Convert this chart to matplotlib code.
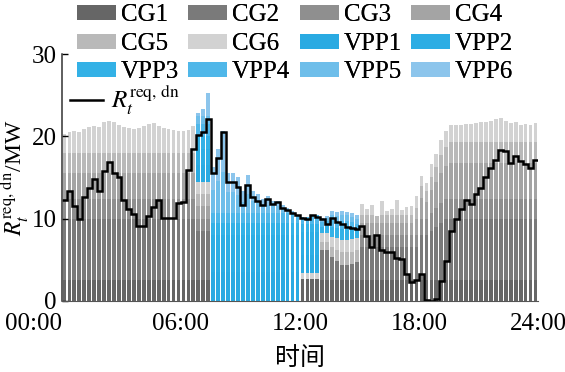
import numpy as np
import matplotlib
matplotlib.use('Agg')
import matplotlib.pyplot as plt

# 96 x 15 min, stacked down-reserve per unit (MW)
cg1 = [2.5, 2.5, 2.5, 2.5, 2.5, 2.5, 2.5, 2.5, 2.5, 2.5, 2.5, 2.5,
       2.5, 2.5, 2.5, 2.5, 2.5, 2.5, 2.5, 2.5, 2.5, 2.5, 2.5, 2.5,
       2.5, 2.5, 2.5, 2.5, 2.5, 2.5, 0, 0, 0, 0, 0, 0,
       0, 0, 0, 0, 0, 0, 0, 0, 0, 0, 0, 0,
       2.7, 2.7, 2.7, 2.7, 2.5, 2.5, 2.5, 2.5, 2.5, 2.5, 2.5, 2.5,
       2.5, 2.5, 2.5, 2.5, 2.5, 2.5, 2.5, 2.5, 2.5, 2.5, 2.5, 2.5,
       2.5, 2.5, 2.5, 2.5, 2.5, 2.5, 2.5, 2.5, 2.5, 2.5, 2.5, 2.5,
       2.5, 2.5, 2.5, 2.5, 2.5, 2.5, 2.5, 2.5, 2.5, 2.5, 2.5, 2.5]
cg2 = [7.5, 7.5, 7.5, 7.5, 7.5, 7.5, 7.5, 7.5, 7.5, 7.5, 7.5, 7.5,
       7.5, 7.5, 7.5, 7.5, 7.5, 7.5, 7.5, 7.5, 7.5, 7.5, 7.5, 7.5,
       7.5, 7.5, 7.5, 6.0, 6.0, 6.0, 0, 0, 0, 0, 0, 0,
       0, 0, 0, 0, 0, 0, 0, 0, 0, 0, 0, 0,
       0, 0, 0, 0, 3.7, 3.7, 2.9, 2.3, 1.9, 1.9, 2.0, 2.2,
       4.0, 4.0, 4.0, 4.0, 4.0, 4.0, 4.0, 4.0, 4.0, 4.0, 4.0, 4.0,
       5.5, 5.5, 6.0, 6.5, 7.0, 7.5, 7.5, 7.5, 7.5, 7.5, 7.5, 7.5,
       7.5, 7.5, 7.5, 7.5, 7.5, 7.5, 7.5, 7.5, 7.5, 7.5, 7.5, 7.5]
cg3 = [2.4, 2.4, 2.4, 2.4, 2.4, 2.4, 2.4, 2.4, 2.4, 2.4, 2.4, 2.4,
       2.4, 2.4, 2.4, 2.4, 2.4, 2.4, 2.4, 2.4, 2.4, 2.4, 2.4, 2.4,
       2.4, 2.4, 2.4, 1.5, 1.5, 1.5, 0, 0, 0, 0, 0, 0,
       0, 0, 0, 0, 0, 0, 0, 0, 0, 0, 0, 0,
       0, 0, 0, 0, 0, 0, 0, 0, 0, 0, 0, 0,
       1.5, 1.5, 1.5, 1.5, 1.5, 1.5, 1.5, 1.5, 1.5, 1.5, 1.5, 1.5,
       2.0, 2.0, 2.2, 2.3, 2.4, 2.4, 2.4, 2.4, 2.4, 2.4, 2.4, 2.4,
       2.4, 2.4, 2.4, 2.4, 2.4, 2.4, 2.4, 2.4, 2.4, 2.4, 2.4, 2.4]
cg4 = [3.2, 3.2, 3.2, 3.2, 3.2, 3.2, 3.2, 3.2, 3.2, 3.2, 3.2, 3.2,
       3.2, 3.2, 3.2, 3.2, 3.2, 3.2, 3.2, 3.2, 3.2, 3.2, 3.2, 3.2,
       3.2, 3.2, 3.2, 1.5, 1.5, 1.5, 0, 0, 0, 0, 0, 0,
       0, 0, 0, 0, 0, 0, 0, 0, 0, 0, 0, 0,
       0, 0, 0, 0, 0, 0, 0, 0, 0, 0, 0, 0,
       1.5, 1.5, 1.5, 1.5, 1.5, 1.5, 1.5, 1.5, 1.5, 1.5, 1.5, 2.0,
       2.5, 2.0, 2.8, 3.2, 3.7, 4.0, 4.4, 4.4, 4.4, 4.4, 4.4, 4.4,
       4.4, 4.4, 4.4, 4.4, 4.4, 4.4, 4.4, 4.4, 4.4, 4.4, 4.4, 4.4]
cg5 = [2.4, 2.4, 2.4, 2.4, 2.4, 2.4, 2.4, 2.4, 2.4, 2.4, 2.4, 2.4,
       2.4, 2.4, 2.4, 2.4, 2.4, 2.4, 2.4, 2.4, 2.4, 2.4, 2.4, 2.4,
       2.4, 2.4, 2.4, 1.5, 1.5, 1.5, 0, 0, 0, 0, 0, 0,
       0, 0, 0, 0, 0, 0, 0, 0, 0, 0, 0, 0,
       0, 0, 0, 0, 1.0, 1.0, 1.2, 1.4, 1.5, 1.5, 1.5, 1.5,
       1.0, 1.0, 1.0, 0.8, 1.0, 1.0, 1.0, 1.0, 1.0, 1.0, 1.0, 1.3,
       1.5, 1.3, 1.6, 1.8, 2.1, 2.3, 2.5, 2.5, 2.5, 2.5, 2.5, 2.5,
       2.5, 2.5, 2.5, 2.5, 2.5, 2.5, 2.5, 2.5, 2.5, 2.5, 2.5, 2.5]
cg6 = [2.3, 2.5, 2.6, 2.5, 2.9, 3.1, 3.2, 3.1, 3.7, 3.9, 3.7, 3.4,
       3.1, 3.0, 2.9, 3.0, 3.2, 3.5, 3.6, 3.2, 3.0, 2.9, 2.8, 2.6,
       2.6, 2.8, 3.2, 1.5, 1.5, 1.5, 0, 0, 0, 0, 0, 0,
       0, 0, 0, 0, 0, 0, 0, 0, 0, 0, 0, 0,
       0.7, 0.7, 0.7, 0.7, 1.0, 1.0, 1.2, 1.4, 1.5, 1.5, 1.5, 1.5,
       1.3, 0.7, 1.1, 0.0, 1.7, 0.4, 0.7, 1.8, 0.6, 0.9, 1.0, 1.5,
       1.2, 1.0, 1.5, 1.6, 1.9, 1.9, 2.1, 2.1, 2.1, 2.2, 2.2, 2.3,
       2.4, 2.5, 2.6, 2.8, 2.9, 2.6, 2.3, 2.4, 2.1, 2.2, 2.1, 2.3]
vpp1 = [0, 0, 0, 0, 0, 0, 0, 0, 0, 0, 0, 0,
        0, 0, 0, 0, 0, 0, 0, 0, 0, 0, 0, 0,
        0, 0, 0, 2.0, 2.0, 2.0, 3.5, 3.5, 3.5, 3.5, 3.5, 3.5,
        3.5, 3.5, 3.5, 3.5, 3.5, 3.5, 3.5, 3.5, 3.5, 3.5, 3.5, 3.5,
        2.2, 2.2, 2.2, 2.2, 0, 0, 0, 0, 0, 0, 0, 0,
        0, 0, 0, 0, 0, 0, 0, 0, 0, 0, 0, 0,
        0, 0, 0, 0, 0, 0, 0, 0, 0, 0, 0, 0,
        0, 0, 0, 0, 0, 0, 0, 0, 0, 0, 0, 0]
vpp2 = [0, 0, 0, 0, 0, 0, 0, 0, 0, 0, 0, 0,
        0, 0, 0, 0, 0, 0, 0, 0, 0, 0, 0, 0,
        0, 0, 0, 2.0, 2.0, 2.0, 4.5, 4.5, 4.5, 4.5, 4.5, 4.5,
        4.5, 4.5, 4.5, 4.5, 4.5, 4.5, 4.5, 4.5, 4.5, 4.5, 4.5, 4.5,
        2.8, 2.8, 2.8, 2.8, 0, 0, 0, 0, 0, 0, 0, 0,
        0, 0, 0, 0, 0, 0, 0, 0, 0, 0, 0, 0,
        0, 0, 0, 0, 0, 0, 0, 0, 0, 0, 0, 0,
        0, 0, 0, 0, 0, 0, 0, 0, 0, 0, 0, 0]
vpp3 = [0, 0, 0, 0, 0, 0, 0, 0, 0, 0, 0, 0,
        0, 0, 0, 0, 0, 0, 0, 0, 0, 0, 0, 0,
        0, 0, 0, 1.5, 1.5, 1.5, 1.5, 1.5, 1.5, 1.5, 1.5, 1.5,
        1.5, 1.5, 1.5, 1.5, 1.5, 1.5, 1.5, 1.5, 1.5, 1.5, 1.5, 1.5,
        1.0, 1.0, 1.0, 1.0, 0.8, 0.9, 1.2, 1.3, 1.4, 1.4, 1.3, 1.0,
        0, 0, 0, 0, 0, 0, 0, 0, 0, 0, 0, 0,
        0, 0, 0, 0, 0, 0, 0, 0, 0, 0, 0, 0,
        0, 0, 0, 0, 0, 0, 0, 0, 0, 0, 0, 0]
vpp4 = [0, 0, 0, 0, 0, 0, 0, 0, 0, 0, 0, 0,
        0, 0, 0, 0, 0, 0, 0, 0, 0, 0, 0, 0,
        0, 0, 0, 1.5, 1.5, 1.5, 1.2, 1.2, 1.2, 1.2, 1.2, 1.2,
        1.2, 1.2, 1.2, 1.2, 1.2, 1.2, 1.2, 1.2, 1.2, 1.2, 1.2, 1.0,
        0.8, 0.8, 1.1, 1.0, 0.6, 0.6, 0.8, 0.8, 0.9, 0.9, 0.8, 0.7,
        0, 0, 0, 0, 0, 0, 0, 0, 0, 0, 0, 0,
        0, 0, 0, 0, 0, 0, 0, 0, 0, 0, 0, 0,
        0, 0, 0, 0, 0, 0, 0, 0, 0, 0, 0, 0]
vpp5 = [0, 0, 0, 0, 0, 0, 0, 0, 0, 0, 0, 0,
        0, 0, 0, 0, 0, 0, 0, 0, 0, 0, 0, 0,
        0, 0, 0, 1.0, 1.0, 1.0, 2.8, 3.9, 5.0, 2.5, 2.5, 2.2,
        1.3, 2.3, 1.4, 1.2, 0.9, 1.0, 0.8, 0.8, 0.5, 0.3, 0.1, 0.0,
        0, 0, 0, 0, 0.3, 0.4, 0.6, 0.6, 0.7, 0.7, 0.6, 0.5,
        0, 0, 0, 0, 0, 0, 0, 0, 0, 0, 0, 0,
        0, 0, 0, 0, 0, 0, 0, 0, 0, 0, 0, 0,
        0, 0, 0, 0, 0, 0, 0, 0, 0, 0, 0, 0]
vpp6 = [0, 0, 0, 0, 0, 0, 0, 0, 0, 0, 0, 0,
        0, 0, 0, 0, 0, 0, 0, 0, 0, 0, 0, 0,
        0, 0, 0, 0.3, 0.8, 2.8, 2.8, 3.9, 5.0, 2.4, 2.4, 2.1,
        1.3, 2.3, 1.3, 1.1, 0.8, 1.0, 0.7, 0.7, 0.4, 0.3, 0.1, 0.0,
        0, 0, 0, 0, 0.2, 0.2, 0.5, 0.5, 0.5, 0.4, 0.5, 0.5,
        0, 0, 0, 0, 0, 0, 0, 0, 0, 0, 0, 0,
        0, 0, 0, 0, 0, 0, 0, 0, 0, 0, 0, 0,
        0, 0, 0, 0, 0, 0, 0, 0, 0, 0, 0, 0]

# required down reserve R_t^{req,dn}
r_req = [12.3, 13.4, 11.5, 10.0, 12.6, 13.7, 14.8, 13.4, 15.8, 16.9, 15.6, 15.0,
         12.3, 11.2, 10.6, 9.1, 9.1, 10.3, 11.4, 12.3, 10.1, 10.1, 10.1, 11.9,
         12.0, 15.9, 18.5, 20.2, 20.5, 22.1, 15.5, 17.4, 20.5, 14.4, 14.4, 13.8,
         11.6, 14.1, 12.6, 12.2, 11.7, 12.4, 11.8, 12.0, 11.3, 11.0, 10.7, 10.4,
         10.1, 10.0, 10.4, 10.2, 9.9, 9.3, 10.1, 9.6, 9.3, 9.0, 8.9, 8.7,
         9.1, 7.9, 6.6, 8.0, 6.2, 6.0, 6.0, 5.2, 5.1, 3.3, 2.3, 2.6,
         3.3, 0.1, 0.0, 0.3, 2.4, 4.8, 8.5, 10.0, 11.2, 12.3, 11.8, 13.0,
         13.7, 15.0, 16.1, 17.1, 18.4, 18.2, 16.8, 17.6, 17.0, 16.7, 16.2, 17.1]

names = ['CG1', 'CG2', 'CG3', 'CG4', 'CG5', 'CG6',
         'VPP1', 'VPP2', 'VPP3', 'VPP4', 'VPP5', 'VPP6']
series = [cg1, cg2, cg3, cg4, cg5, cg6, vpp1, vpp2, vpp3, vpp4, vpp5, vpp6]
colors = ['#666666', '#7a7a7a', '#8f8f8f', '#a4a4a4', '#b9b9b9', '#d2d2d2',
          '#29aae2', '#2cade4', '#33b1e6', '#4fb7e9', '#6ebeea', '#8cc5ec']
tick_labels = ['00:00', '06:00', '12:00', '18:00', '24:00']

plt.rcParams['font.family'] = ['Liberation Serif', 'Noto Sans CJK SC']
plt.rcParams['mathtext.fontset'] = 'stix'
plt.rcParams['font.size'] = 18

fig = plt.figure(figsize=(5.65, 3.72), dpi=100)
ax = fig.add_axes([0.1097, 0.1909, 0.8425, 0.6639])

x = np.arange(len(r_req)) + 0.5
bottom = np.zeros(len(r_req))
bars = {}
for name, vals, col in zip(names, series, colors):
    bars[name] = ax.bar(x, vals, width=0.76, bottom=bottom, color=col, linewidth=0)
    bottom = bottom + np.array(vals)

req_line = ax.stairs(r_req, np.arange(len(r_req) + 1), baseline=None,
                     color='black', linewidth=1.8)

ax.set_xlim(0, 96)
ax.set_ylim(0, 30)
ax.set_yticks([0, 10, 20, 30])
ax.set_xticks([0, 24, 48, 72, 96])
ax.set_xticklabels(tick_labels)
ax.get_xticklabels()[0].set_ha('right')
ax.tick_params(axis='y', direction='in', length=4, width=1, pad=4)
ax.tick_params(axis='x', length=0, pad=9)
for s in ['top', 'right']:
    ax.spines[s].set_visible(False)
ax.spines['left'].set_color('#333333')
ax.spines['left'].set_linewidth(1.1)
ax.spines['bottom'].set_color('#555555')
ax.spines['bottom'].set_linewidth(0.8)

ax.set_ylabel(r'$R_t^{\mathrm{req,\,dn}}$/MW', fontsize=17)
ax.yaxis.set_label_coords(-0.065, 0.5)
ax.set_xlabel('时间', labelpad=8)

# patch legend: filled column by column, reorder to read row-wise
order = ['CG1', 'CG5', 'VPP3', 'CG2', 'CG6', 'VPP4',
         'CG3', 'VPP1', 'VPP5', 'CG4', 'VPP2', 'VPP6']
leg1 = fig.legend([bars[k] for k in order], order, ncol=4, loc='upper left',
                  bbox_to_anchor=(0.136, 0.988), frameon=False, fontsize=18,
                  handlelength=1.55, handleheight=0.55, handletextpad=0.2,
                  columnspacing=0.38, labelspacing=0.26, borderpad=0,
                  borderaxespad=0)
fig.add_artist(leg1)
fig.legend([req_line], [r'$R_t^{\mathrm{req,\,dn}}$'], loc='center left',
           bbox_to_anchor=(0.124, 0.731), frameon=False, fontsize=18,
           handlelength=1.3, handletextpad=0.35, borderpad=0, borderaxespad=0)

fig.savefig('out.png', dpi=100)
